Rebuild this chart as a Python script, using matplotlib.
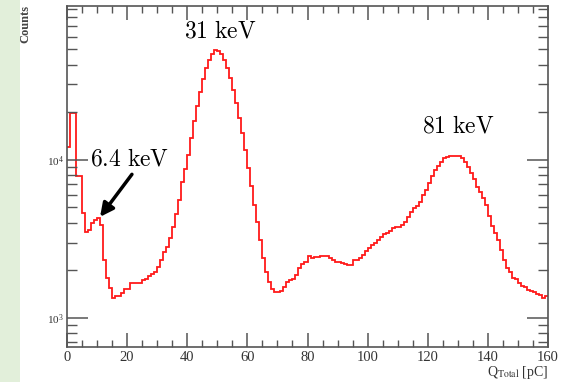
import numpy as np
import matplotlib
matplotlib.use("Agg")
import matplotlib.pyplot as plt
from matplotlib.patches import Rectangle
from matplotlib.ticker import MultipleLocator, LogLocator, NullFormatter, FixedLocator

# Histogram: Q_Total [pC], 1 pC bins from 0 to 160
bin_edges = np.arange(0, 161, 1)
counts = [
    12100, 19800, 19800, 7900, 7900, 4600, 3520, 3600, 3970, 4170,
    4270, 3880, 2330, 1780, 1540, 1330, 1370, 1380, 1430, 1520,
    1520, 1670, 1670, 1670, 1660, 1740, 1760, 1840, 1900, 1960,
    2110, 2330, 2630, 2830, 3200, 3780, 4520, 5600, 7200, 8800,
    10800, 13800, 17500, 22000, 27000, 32500, 38000, 43000, 46800, 49700,
    49000, 46900, 42700, 38000, 33000, 27700, 22900, 18400, 14800, 11570,
    8900, 6850, 5190, 4050, 3120, 2400, 1960, 1690, 1530, 1460,
    1460, 1480, 1580, 1680, 1740, 1760, 1870, 2060, 2200, 2270,
    2450, 2380, 2420, 2430, 2480, 2480, 2450, 2380, 2320, 2270,
    2250, 2220, 2200, 2170, 2170, 2310, 2340, 2380, 2500, 2650,
    2770, 2900, 3000, 3100, 3270, 3400, 3450, 3560, 3700, 3740,
    3760, 3880, 4070, 4380, 4710, 4950, 5100, 5450, 6000, 6450,
    7120, 7920, 8650, 9160, 9750, 10250, 10400, 10600, 10600, 10600,
    10600, 10250, 9750, 9070, 8240, 7550, 6780, 6300, 5700, 5190,
    4420, 3810, 3430, 3120, 2700, 2330, 2060, 1960, 1800, 1760,
    1670, 1600, 1560, 1510, 1480, 1460, 1420, 1400, 1330, 1370,
]

peak_labels = ["31 keV", "81 keV", "6.4 keV"]
peak_label_x = [51, 130.3, 20.7]
peak_label_y = [64500, 16200, 10100]
arrow_tip = (11, 4360)
arrow_tail = (21.6, 8100)

x_ticks = [0, 20, 40, 60, 80, 100, 120, 140, 160]

plt.rcParams['font.family'] = ['Liberation Serif', 'DejaVu Serif']
plt.rcParams['mathtext.fontset'] = 'stix'

fig = plt.figure(figsize=(5.74, 3.82), dpi=100)
fig.patch.set_facecolor('white')
fig.add_artist(Rectangle((0, 0), 20 / 574, 1, transform=fig.transFigure,
                         facecolor='#e2efda', edgecolor='none', zorder=0))

ax = fig.add_axes([67 / 574, 35 / 382, 481 / 574, 341 / 382])
ax.stairs(counts, bin_edges, baseline=None, color='#ff1a1a', linewidth=1.3)
ax.set_yscale('log')
ax.set_xlim(0, 160)
ax.set_ylim(655, 94000)

axis_col = '#555555'
for s in ax.spines.values():
    s.set_color(axis_col)
    s.set_linewidth(1.2)

ax.xaxis.set_major_locator(FixedLocator(x_ticks))
ax.xaxis.set_minor_locator(MultipleLocator(5))
ax.yaxis.set_major_locator(LogLocator(base=10, numticks=10))
ax.yaxis.set_minor_locator(LogLocator(base=10, subs=np.arange(2, 10), numticks=20))
ax.yaxis.set_minor_formatter(NullFormatter())
ax.tick_params(which='both', direction='in', top=True, right=True, colors=axis_col,
               labelcolor='#333333')
ax.tick_params(which='major', length=10, width=1.1)
ax.tick_params(which='minor', length=5, width=1.0)
ax.tick_params(axis='y', which='major', length=15, labelsize=8, pad=2)
ax.tick_params(axis='y', which='minor', length=7)
ax.tick_params(axis='x', which='major', labelsize=10.5, pad=3)

ax.text(1.0, -0.05, r'Q$_{\mathrm{Total}}$ [pC]', transform=ax.transAxes,
        ha='right', va='top', fontsize=10, color='#333333')
fig.text(25 / 574, 1 - 5 / 382, 'Counts', rotation=90, ha='center', va='top',
         fontsize=9, fontweight='bold', color='#444444')

for lab, lx, ly in zip(peak_labels, peak_label_x, peak_label_y):
    ax.text(lx, ly, r'$\mathrm{' + lab.replace(' ', r'\ ') + '}$', ha='center', va='center',
            fontsize=17, color='black', math_fontfamily='cm')

ax.annotate('', xy=arrow_tip, xytext=arrow_tail,
            arrowprops=dict(arrowstyle='-|>,head_length=0.8,head_width=0.4',
                            color='black', lw=2.5, shrinkA=0, shrinkB=0))

fig.savefig('out.png', dpi=100)
